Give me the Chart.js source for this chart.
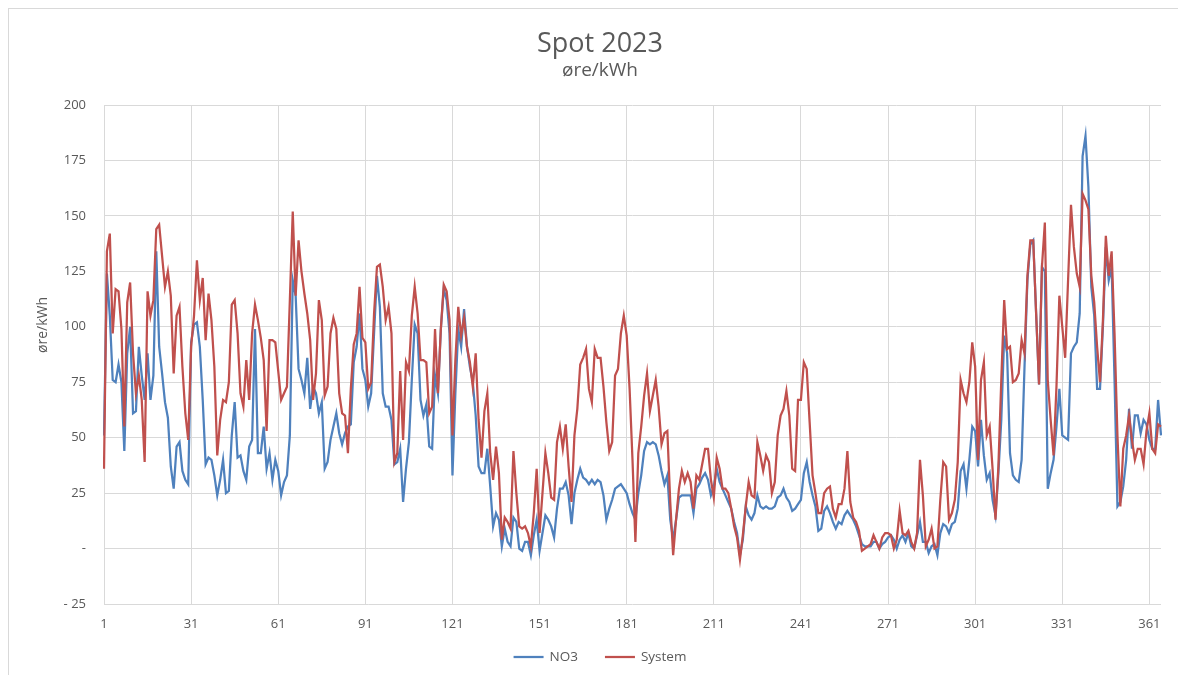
<!DOCTYPE html>
<html>
<head>
<meta charset="utf-8">
<script src="https://cdn.jsdelivr.net/npm/chart.js@4.4.1/dist/chart.umd.min.js"></script>
<style>
  html, body { margin: 0; padding: 0; background: #fff; overflow: hidden; }
  #wrap { position: relative; width: 1178px; height: 675px; }
  #frame { position: absolute; left: 8px; top: 8px; width: 1200px; height: 700px;
           border-left: 1px solid #d9d9d9; border-top: 1px solid #d9d9d9; pointer-events: none; }
</style>
</head>
<body>
<div id="wrap">
  <canvas id="myChart" width="1178" height="675"></canvas>
  <div id="frame"></div>
</div>
<script>
// day numbers 1..365 (category axis)
const days = Array.from({ length: 365 }, (_, i) => String(i + 1));
const tickStep = 30; // labels 1, 31, 61 ... 361

const yTicks = [-25, 0, 25, 50, 75, 100, 125, 150, 175, 200];
const yTitle = "øre/kWh";

// NO3, øre/kWh per day
const no3 = [
  51,124,105,76,75,83,75,44,88,100,
  61,62,91,78,67,88,67,78,134,91,
  79,66,59,37,27,46,48,35,31,29,
  93,101,102,91,67,38,41,40,33,24,
  31,40,25,26,51,66,41,42,35,31,
  46,49,99,43,43,55,36,43,31,40,
  35,24,30,33,51,121,114,81,76,70,
  86,63,73,70,61,66,36,39,49,55,
  61,52,47,52,55,56,84,91,106,81,
  76,64,70,97,123,109,70,64,64,58,
  38,39,45,21,36,48,76,101,97,67,
  60,65,46,45,78,70,99,117,112,97,
  33,70,99,91,108,91,82,75,60,37,
  34,34,45,28,10,16,13,1,9,3,
  1,14,12,0,-1,3,3,-3,6,13,
  -1,7,15,13,10,5,18,27,27,30,
  24,11,25,31,36,32,31,29,31,29,
  31,30,24,13,18,22,27,28,29,27,
  25,20,16,13,25,33,44,48,47,48,
  47,42,35,29,33,13,4,13,23,24,
  24,24,24,16,27,29,32,34,31,24,
  28,36,30,27,24,21,18,12,7,-3,
  4,19,15,13,16,24,19,18,19,18,
  18,19,23,24,27,23,21,17,18,20,
  22,34,39,30,24,19,8,9,17,19,
  16,12,9,12,11,15,17,15,13,10,
  6,2,1,1,1,3,3,0,2,3,
  5,6,4,0,4,6,3,7,1,0,
  6,12,3,3,-2,1,2,-3,7,11,
  10,7,11,12,18,35,38,27,40,55,
  53,37,58,42,31,34,22,15,34,58,
  96,88,43,33,31,30,40,82,121,137,
  139,106,74,127,125,27,34,40,55,72,
  51,50,49,88,91,93,106,177,186,163,
  118,105,72,72,100,136,121,127,76,19,
  21,28,40,63,45,60,60,52,58,56,
  49,45,45,67,51
];

// System price, øre/kWh per day
const system = [
  36,134,142,97,117,116,99,55,111,120,
  88,70,78,67,39,116,105,112,144,146,
  132,118,125,114,79,105,109,82,61,49,
  91,105,130,112,122,94,115,103,82,42,
  58,67,66,75,110,112,97,70,64,85,
  67,97,110,103,95,85,53,94,94,93,
  80,67,70,73,112,152,114,139,125,115,
  106,94,67,79,112,103,69,73,97,104,
  99,70,61,60,43,72,92,97,118,95,
  93,72,75,106,127,128,118,103,109,97,
  39,43,80,49,84,80,105,118,106,85,
  85,84,61,64,99,70,99,119,116,103,
  51,85,109,96,104,91,84,73,88,58,
  41,62,70,43,31,46,34,4,14,12,
  9,44,25,10,9,10,7,1,16,36,
  7,25,43,34,23,22,48,55,45,56,
  37,21,51,63,83,86,90,72,66,90,
  86,86,73,57,44,48,78,81,97,105,
  96,72,40,3,43,55,69,79,62,69,
  76,64,47,52,53,21,-3,13,27,35,
  30,34,30,18,33,31,38,45,45,31,
  23,41,36,27,27,25,18,10,5,-5,
  6,19,30,24,23,48,42,35,42,39,
  25,30,51,60,63,71,60,36,35,67,
  67,84,81,57,33,25,16,16,25,27,
  28,18,14,20,20,27,44,21,14,12,
  8,-1,0,1,2,6,3,0,5,7,
  7,6,0,4,17,7,6,8,3,0,
  7,40,24,1,4,9,0,1,22,39,
  37,13,16,22,39,76,70,66,75,93,
  82,40,76,84,51,55,36,13,37,76,
  112,90,91,75,76,79,94,88,123,139,
  139,106,74,127,147,76,58,42,73,114,
  100,86,121,155,136,124,118,160,157,153,
  123,111,91,75,103,141,123,134,97,51,
  19,45,51,60,49,40,45,45,38,53,
  61,45,43,56,55
];

const textColor = "#595959";
const gridColor = "#d9d9d9";
const font = "'Open Sans', 'Liberation Sans', sans-serif";

// y axis title + bottom legend drawn by hand, placed like the Excel original
const extrasPlugin = {
  id: "extras",
  afterDraw(chart) {
    const ctx = chart.ctx;
    ctx.save();
    ctx.fillStyle = textColor;
    ctx.font = "14px " + font;
    ctx.textAlign = "center";
    ctx.textBaseline = "middle";
    ctx.translate(43, 325);
    ctx.rotate(-Math.PI / 2);
    ctx.fillText(yTitle, 0, 0);
    ctx.restore();

    // legend, in dataset order
    const lineLen = 30, gapText = 6, gapItem = 27, legendY = 657;
    ctx.save();
    ctx.font = "13.5px " + font;
    ctx.textBaseline = "middle";
    ctx.textAlign = "left";
    const items = chart.data.datasets.map((ds) => ({
      text: ds.label,
      color: ds.borderColor,
      w: lineLen + gapText + ctx.measureText(ds.label).width,
    }));
    const total = items.reduce((s, it) => s + it.w, 0) + gapItem * (items.length - 1);
    let x = 600 - total / 2;
    items.forEach((it) => {
      ctx.strokeStyle = it.color;
      ctx.lineWidth = 2.25;
      ctx.beginPath();
      ctx.moveTo(x, legendY);
      ctx.lineTo(x + lineLen, legendY);
      ctx.stroke();
      ctx.fillStyle = textColor;
      ctx.fillText(it.text, x + lineLen + gapText, legendY);
      x += it.w + gapItem;
    });
    ctx.restore();
  },
};

new Chart("myChart", {
  type: "line",
  data: {
    labels: days,
    datasets: [
      {
        label: "NO3",
        data: no3,
        borderColor: "#4f81bd",
        backgroundColor: "#4f81bd",
        borderWidth: 2.25,
        pointRadius: 0,
        order: 1,
      },
      {
        label: "System",
        data: system,
        borderColor: "#c0504d",
        backgroundColor: "#c0504d",
        borderWidth: 2.25,
        pointRadius: 0,
        order: 0,
      },
    ],
  },
  plugins: [extrasPlugin],
  options: {
    responsive: false,
    animation: false,
    layout: { padding: { top: 0, left: 39, right: 17, bottom: 35 } },
    plugins: {
      title: {
        display: true,
        text: "Spot 2023",
        color: textColor,
        font: { family: font, size: 27, weight: "normal", lineHeight: 1.0 },
        padding: { top: 31, bottom: 0 },
      },
      subtitle: {
        display: true,
        text: "øre/kWh",
        color: textColor,
        font: { family: font, size: 19, weight: "normal", lineHeight: 1.0 },
        padding: { top: 3, bottom: 25 },
      },
      legend: { display: false },
      tooltip: { enabled: false },
    },
    scales: {
      x: {
        type: "category",
        grid: {
          color: gridColor,
          drawTicks: false,
        },
        border: { display: false },
        ticks: {
          autoSkip: false,
          maxRotation: 0,
          padding: 12,
          color: textColor,
          font: { family: font, size: 13 },
          callback: function (val, index) {
            return index % tickStep === 0 ? days[index] : null;
          },
        },
        afterFit: function (scale) {
          scale.height = 36;
        },
      },
      y: {
        min: -25,
        max: 200,
        afterBuildTicks: function (scale) {
          scale.ticks = yTicks.map((v) => ({ value: v }));
        },
        grid: { color: gridColor, drawTicks: false },
        border: { display: false },
        ticks: {
          padding: 18,
          color: textColor,
          font: { family: font, size: 13 },
          callback: function (v) {
            if (v === 0) return "-";
            if (v < 0) return "- " + Math.abs(v);
            return v;
          },
        },
        afterFit: function (scale) {
          scale.width = 65;
        },
      },
    },
  },
});
</script>
</body>
</html>
